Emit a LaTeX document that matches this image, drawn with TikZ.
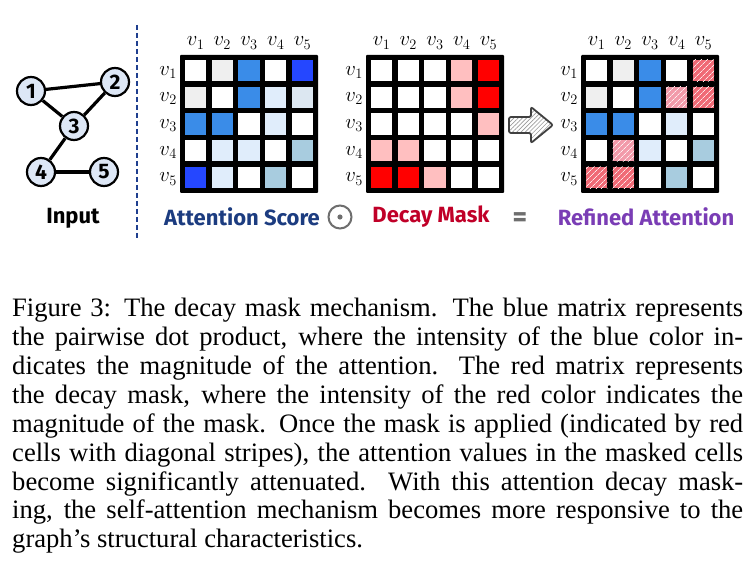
\documentclass[tikz,border=0pt]{standalone}
\usepackage{fontspec}
\setmainfont{Liberation Serif}
\newfontfamily\comicf{Fira Sans}
\usetikzlibrary{patterns.meta}
\definecolor{blueS}{HTML}{2547FF}
\definecolor{blueM}{HTML}{3A8CE8}
\definecolor{blueL}{HTML}{E0EDFB}
\definecolor{blueG}{HTML}{DCE7F1}
\definecolor{steel}{HTML}{A8CCDF}
\definecolor{greyL}{HTML}{EFEFEF}
\definecolor{pinkL}{HTML}{FFBFC0}
\definecolor{redS}{HTML}{FF0000}
\definecolor{stripR}{HTML}{F06A76}
\definecolor{stripP}{HTML}{F29AAA}
\definecolor{navyT}{HTML}{1C3C80}
\definecolor{crimT}{HTML}{C00028}
\definecolor{purpT}{HTML}{7A3DB5}
\definecolor{greyT}{HTML}{6E6E6E}
\definecolor{nodeF}{HTML}{DDE7F6}
\definecolor{dashC}{HTML}{1F3F8F}
\newcommand{\cellfill}[5]{\fill[#5] ({#1+5+(#4-1)*26.7},{#2+5+(#3-1)*26.7}) rectangle ++(21.3,21.3);}
\newcommand{\cellstripe}[5]{\fill[#5] ({#1+5+(#4-1)*26.7},{#2+5+(#3-1)*26.7}) rectangle ++(21.3,21.3);
  \fill[pattern={Lines[angle=45,distance=4pt,line width=0.8pt]}, pattern color=white!85!#5] ({#1+5+(#4-1)*26.7},{#2+5+(#3-1)*26.7}) rectangle ++(21.3,21.3);}
\newcommand{\matframe}[3]{%
  \fill[black, rounded corners=1] (#1,#2) rectangle ++(138,138);
  \foreach \r in {1,...,5}{\foreach \c in {1,...,5}{\cellfill{#1}{#2}{\r}{\c}{white}}}
  \foreach \c in {1,...,5}{\node[mlabel, anchor=base] (#3-col\c) at ({#1+15.65+(\c-1)*26.7},46) {$v_{\c}$};}
  \foreach \r in {1,...,5}{\node[mlabel, anchor=base east] (#3-row\r) at ({#1-3},{#2+20.15+(\r-1)*26.7}) {$v_{\r}$};}
}
\tikzset{
  mlabel/.style={inner sep=0, font=\fontsize{21}{21}\selectfont},
  gnode/.style={circle, draw=black, line width=2.2, fill=nodeF, minimum size=28, inner sep=0,
    font=\comicf\bfseries\fontsize{21}{21}\selectfont},
  gedge/.style={line width=3.2},
  tlabel/.style={inner sep=0, font=\comicf\bfseries\fontsize{22}{22}\selectfont},
  capline/.style={anchor=base west, inner sep=0, font=\fontsize{26.6}{28.8}\selectfont}
}
\begin{document}
\begin{tikzpicture}[x=1pt,y=-1pt]
\useasboundingbox (0,0) rectangle (756,564);
% graph
\node[gnode] (n1) at (31,91) {1};
\node[gnode] (n2) at (115,82) {2};
\node[gnode] (n3) at (74,126) {3};
\node[gnode] (n4) at (41,172) {4};
\node[gnode] (n5) at (104,172) {5};
\draw[gedge] (n1) -- (n2);
\draw[gedge] (n1) -- (n3);
\draw[gedge] (n2) -- (n3);
\draw[gedge] (n3) -- (n4);
\draw[gedge] (n4) -- (n5);
\node[tlabel] (input) at (73,218) {Input};
% divider
\draw[dashC, line width=2.2, dash pattern=on 5 off 3] (137,25) -- (137,240);
% attention matrix
\matframe{180}{55}{att}
\cellfill{180}{55}{1}{2}{greyL}
\cellfill{180}{55}{1}{3}{blueM}
\cellfill{180}{55}{1}{5}{blueS}
\cellfill{180}{55}{2}{1}{greyL}
\cellfill{180}{55}{2}{3}{blueM}
\cellfill{180}{55}{2}{4}{blueL}
\cellfill{180}{55}{2}{5}{blueG}
\cellfill{180}{55}{3}{1}{blueM}
\cellfill{180}{55}{3}{2}{blueM}
\cellfill{180}{55}{3}{4}{blueL}
\cellfill{180}{55}{4}{2}{blueL}
\cellfill{180}{55}{4}{3}{blueL}
\cellfill{180}{55}{4}{5}{steel}
\cellfill{180}{55}{5}{1}{blueS}
\cellfill{180}{55}{5}{2}{blueL}
\cellfill{180}{55}{5}{4}{steel}
% decay mask
\matframe{366}{55}{dec}
\cellfill{366}{55}{1}{4}{pinkL}
\cellfill{366}{55}{1}{5}{redS}
\cellfill{366}{55}{2}{4}{pinkL}
\cellfill{366}{55}{2}{5}{redS}
\cellfill{366}{55}{3}{5}{pinkL}
\cellfill{366}{55}{4}{1}{pinkL}
\cellfill{366}{55}{4}{2}{pinkL}
\cellfill{366}{55}{5}{1}{redS}
\cellfill{366}{55}{5}{2}{redS}
\cellfill{366}{55}{5}{3}{pinkL}
% refined
\matframe{581}{55}{ref}
\cellfill{581}{55}{1}{2}{greyL}
\cellfill{581}{55}{1}{3}{blueM}
\cellstripe{581}{55}{1}{5}{stripR}
\cellfill{581}{55}{2}{1}{greyL}
\cellfill{581}{55}{2}{3}{blueM}
\cellstripe{581}{55}{2}{4}{stripP}
\cellstripe{581}{55}{2}{5}{stripR}
\cellfill{581}{55}{3}{1}{blueM}
\cellfill{581}{55}{3}{2}{blueM}
\cellfill{581}{55}{3}{4}{blueL}
\cellstripe{581}{55}{4}{2}{stripP}
\cellfill{581}{55}{4}{3}{blueL}
\cellfill{581}{55}{4}{5}{steel}
\cellstripe{581}{55}{5}{1}{stripR}
\cellstripe{581}{55}{5}{2}{stripR}
\cellfill{581}{55}{5}{4}{steel}
% arrow
\draw[line width=1.8, draw=black!75, rounded corners=2, pattern={Lines[angle=45,distance=3pt,line width=0.6pt]}, pattern color=black!40]
  (509,117) -- (531,117) -- (531,107) -- (553,125) -- (531,143) -- (531,133) -- (509,133) -- cycle;
% bottom labels
\node[tlabel, text=navyT] (attl) at (242,217) {Attention Score};
\node[circle, draw=greyT, line width=2, minimum size=23, inner sep=0] (odot) at (340,217) {};
\fill[greyT] (odot.center) circle (2.6);
\node[tlabel, text=crimT] (decl) at (431,217) {Decay Mask};
\node[tlabel, text=greyT, font=\comicf\bfseries\fontsize{28}{28}\selectfont] (eq) at (520,220) {=};
\node[tlabel, text=purpT] (refl) at (646,217) {Refined Attention};
% caption
\node[capline] (cap1) at (12,316.6) {\hbox to 731pt{Figure 3: The decay mask mechanism.  The blue matrix represents}};
\node[capline] (cap2) at (12,345.5) {\hbox to 731pt{the pairwise dot product, where the intensity of the blue color in-}};
\node[capline] (cap3) at (12,374.4) {\hbox to 731pt{dicates the magnitude of the attention.  The red matrix represents}};
\node[capline] (cap4) at (12,403.3) {\hbox to 731pt{the decay mask, where the intensity of the red color indicates the}};
\node[capline] (cap5) at (12,432.2) {\hbox to 731pt{magnitude of the mask. Once the mask is applied (indicated by red}};
\node[capline] (cap6) at (12,461.1) {\hbox to 731pt{cells with diagonal stripes), the attention values in the masked cells}};
\node[capline] (cap7) at (12,490.0) {\hbox to 731pt{become significantly attenuated.  With this attention decay mask-}};
\node[capline] (cap8) at (12,518.9) {\hbox to 731pt{ing, the self-attention mechanism becomes more responsive to the}};
\node[capline] (cap9) at (12,547.8) {graph’s structural characteristics.};
\end{tikzpicture}
\end{document}
